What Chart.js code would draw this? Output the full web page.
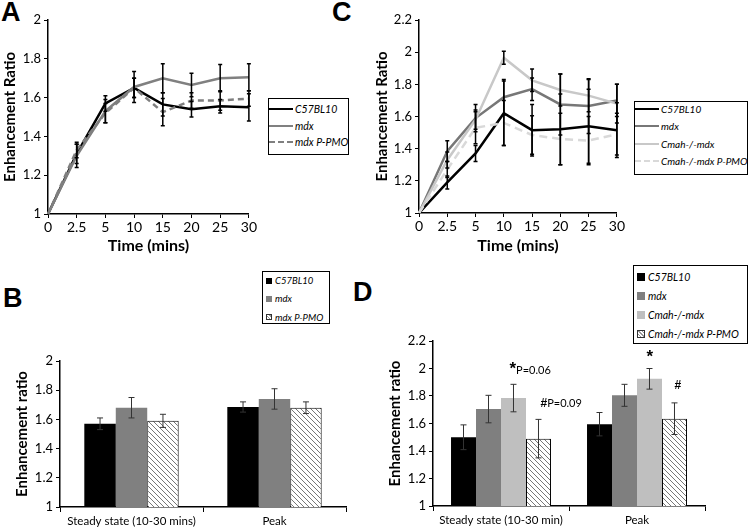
<!DOCTYPE html>
<html>
<head>
<meta charset="utf-8">
<script src="https://cdn.jsdelivr.net/npm/chart.js@4"></script>
<style>
  body { margin: 0; background: #fff; font-family: Lato, "Open Sans", sans-serif; }
  #wrap { position: relative; width: 752px; height: 531px; overflow: hidden; background: #fff; }
  .box { position: absolute; }
  .panel { position: absolute; font: bold 27px "Liberation Sans", Arial, sans-serif; color: #000; }
  .legend { position: absolute; border: 1.5px solid #000; background: #fff; box-sizing: border-box; }
  .item { position: absolute; left: 0; white-space: nowrap; font-style: italic; color: #000; display: flex; align-items: center; }
  .line { display: inline-block; width: 24px; height: 0; margin-right: 2px; }
  .sq { display: inline-block; margin: 0 3px 0 3px; box-sizing: border-box; }
</style>
</head>
<body>
<div id="wrap">
  <div class="panel" style="left:1px;top:-3px">A</div>
  <div class="panel" style="left:332px;top:-3px">C</div>
  <div class="panel" style="left:3px;top:283px">B</div>
  <div class="panel" style="left:353px;top:277px">D</div>

  <div class="box" style="left:0;top:0;width:258px;height:255px"><canvas id="chartA"></canvas></div>
  <div class="box" style="left:372px;top:0;width:254px;height:255px"><canvas id="chartC"></canvas></div>
  <div class="box" style="left:12px;top:345px;width:336px;height:186px"><canvas id="chartB"></canvas></div>
  <div class="box" style="left:385px;top:325px;width:322px;height:206px"><canvas id="chartD"></canvas></div>

  <div class="legend" id="legA" style="left:268px;top:98px;width:81px;height:57px;font-size:10.5px"></div>
  <div class="legend" id="legC" style="left:634px;top:101px;width:114px;height:74px;font-size:10px"></div>
  <div class="legend" id="legB" style="left:262px;top:271px;width:68px;height:53px;font-size:9.5px"></div>
  <div class="legend" id="legD" style="left:633px;top:265px;width:115px;height:79px;font-size:10.5px"></div>
</div>

<script>
// ---- data ----
const timeLabels = ['0', '2.5', '5', '10', '15', '20', '25', '30'];

// panel A
const aC57 = [1, 1.31, 1.57, 1.65, 1.565, 1.54, 1.555, 1.55];
const aC57Err = [0, 0.05, 0.04, 0.05, 0.06, 0.04, 0.035, 0.07];
const aMdx = [1, 1.30, 1.53, 1.655, 1.70, 1.665, 1.70, 1.705];
const aMdxErr = [0, 0.06, 0.06, 0.08, 0.075, 0.06, 0.07, 0.07];
const aPmo = [1, 1.33, 1.52, 1.65, 1.525, 1.585, 1.585, 1.595];
const aPmoErr = [0, 0.04, 0.05, 0.05, 0.07, 0.04, 0.05, 0.04];

// panel C
const cC57 = [1, 1.19, 1.37, 1.62, 1.515, 1.52, 1.54, 1.515];
const cC57Err = [0, 0.04, 0.05, 0.2, 0.16, 0.22, 0.23, 0.17];
const cMdx = [1, 1.385, 1.59, 1.72, 1.77, 1.675, 1.665, 1.70];
const cMdxErr = [0, 0.065, 0.085, 0.11, 0.07, 0.19, 0.17, 0.1];
const cCmah = [1, 1.33, 1.58, 1.965, 1.825, 1.765, 1.73, 1.68];
const cCmahErr = [0, 0.05, 0.06, 0.04, 0.07, 0.1, 0.1, 0.12];
const cPmo = [1, 1.27, 1.53, 1.56, 1.485, 1.46, 1.45, 1.49];
const cPmoErr = [0, 0.05, 0.1, 0.14, 0.12, 0.16, 0.15, 0.13];

// panel B
const barGroupsB = ['Steady state (10-30 mins)', 'Peak'];
const bC57 = [1.57, 1.685];
const bC57Err = [0.04, 0.035];
const bMdx = [1.68, 1.74];
const bMdxErr = [0.07, 0.07];
const bPmo = [1.59, 1.68];
const bPmoErr = [0.045, 0.04];

// panel D
const barGroupsD = ['Steady state (10-30 min)', 'Peak'];
const dC57 = [1.50, 1.595];
const dC57Err = [0.09, 0.085];
const dMdx = [1.705, 1.805];
const dMdxErr = [0.1, 0.08];
const dCmah = [1.785, 1.925];
const dCmahErr = [0.1, 0.075];
const dPmo = [1.49, 1.635];
const dPmoErr = [0.14, 0.115];

Chart.defaults.font.family = 'Lato, "Open Sans", sans-serif';
Chart.defaults.color = '#000';
Chart.defaults.animation = false;

// hatched fill for the P-PMO bars
function hatchPattern() {
    const c = document.createElement('canvas');
    c.width = 5; c.height = 5;
    const g = c.getContext('2d');
    g.fillStyle = '#fff';
    g.fillRect(0, 0, 5, 5);
    g.strokeStyle = '#777';
    g.lineWidth = 1;
    g.beginPath();
    g.moveTo(0, 0); g.lineTo(5, 5);
    g.moveTo(-1, 4); g.lineTo(1, 6);
    g.moveTo(4, -1); g.lineTo(6, 1);
    g.stroke();
    return g.createPattern(c, 'repeat');
}

// Plugin for error bars
const errorBars = {
    id: 'errorBars',
    afterDatasetsDraw(chart, args, opts) {
        const { ctx } = chart;
        const y = chart.scales.y;
        ctx.save();
        chart.data.datasets.forEach((ds, i) => {
            if (!ds.errors) return;
            const meta = chart.getDatasetMeta(i);
            ds.data.forEach((v, j) => {
                const e = ds.errors[j];
                if (!e) return;
                const x = meta.data[j].x;
                const top = y.getPixelForValue(v + e);
                const bot = y.getPixelForValue(v - e);
                ctx.strokeStyle = opts.color;
                ctx.lineWidth = opts.width;
                ctx.beginPath();
                ctx.moveTo(x, top); ctx.lineTo(x, bot);
                ctx.moveTo(x - opts.cap, top); ctx.lineTo(x + opts.cap, top);
                ctx.moveTo(x - opts.cap, bot); ctx.lineTo(x + opts.cap, bot);
                ctx.stroke();
            });
        });
        ctx.restore();
    }
};

// Plugin for the significance marks in D
const sigMarks = {
    id: 'sigMarks',
    afterDatasetsDraw(chart, args, opts) {
        const { ctx } = chart;
        ctx.save();
        ctx.fillStyle = '#000';
        ctx.textBaseline = 'middle';
        ctx.textAlign = 'left';
        (opts.marks || []).forEach(m => {
            const bar = chart.getDatasetMeta(m.ds).data[m.idx];
            let x = bar.x + m.dx;
            const y = bar.y + m.dy;
            ctx.font = 'bold ' + m.size + 'px "Liberation Sans", Arial, sans-serif';
            ctx.fillText(m.mark, x, y);
            if (m.note) {
                x += ctx.measureText(m.mark).width;
                ctx.font = '11px Lato, sans-serif';
                ctx.fillText(m.note, x, y + m.noteDy);
            }
        });
        ctx.restore();
    }
};

const fmt = v => String(Math.round(v * 10) / 10);

function yAxis(min, max, title, width) {
    return {
        min: min, max: max,
        afterFit: s => { s.width = width; },
        ticks: { stepSize: 0.2, font: { size: 13 }, padding: 3, callback: fmt },
        grid: { drawOnChartArea: false, color: '#000', tickLength: 4 },
        border: { color: '#000', width: 1.5 },
        title: { display: true, text: title, font: { size: 15, weight: 'bold' }, padding: { top: 1, bottom: 1 } }
    };
}

function lineSet(label, data, errors, color, dash) {
    return {
        label: label, data: data, errors: errors,
        borderColor: color, borderWidth: 2.5, borderDash: dash || [],
        pointRadius: 0, tension: 0, fill: false
    };
}

function lineOptions(ymax, yTitle, yWidth, xHeight) {
    return {
        responsive: true,
        maintainAspectRatio: false,
        layout: { padding: { top: 20, right: 8, left: 0, bottom: 0 } },
        plugins: {
            legend: { display: false },
            tooltip: { enabled: false },
            errorBars: { color: '#000', width: 1.5, cap: 2 }
        },
        scales: {
            x: {
                offset: false,
                afterFit: s => { s.height = xHeight; },
                ticks: { font: { size: 14 }, padding: 1, maxRotation: 0, autoSkip: false },
                grid: { drawOnChartArea: false, color: '#000', tickLength: 4, offset: false },
                border: { color: '#000', width: 1.5 },
                title: { display: true, text: 'Time (mins)', font: { size: 16, weight: 'bold' }, padding: { top: 0, bottom: 0 } }
            },
            y: yAxis(1, ymax, yTitle, yWidth)
        }
    };
}

function barSet(label, data, errors, color, border) {
    return {
        label: label, data: data, errors: errors,
        backgroundColor: color,
        borderColor: border ? '#000' : color,
        borderWidth: border ? 1 : 0
    };
}

function barOptions(ymax, yWidth, xHeight, catPct, extra) {
    return {
        responsive: true,
        maintainAspectRatio: false,
        layout: { padding: { top: 16, right: 2, left: 0, bottom: 0 } },
        datasets: { bar: { categoryPercentage: catPct, barPercentage: 1.0 } },
        plugins: Object.assign({
            legend: { display: false },
            tooltip: { enabled: false },
            errorBars: { color: '#333', width: 1, cap: 3 }
        }, extra || {}),
        scales: {
            x: {
                afterFit: s => { s.height = xHeight; },
                ticks: { font: { size: 11.5 }, padding: 2, maxRotation: 0, autoSkip: false },
                grid: { drawOnChartArea: false, color: '#000', tickLength: 5, offset: true },
                border: { color: '#000', width: 1.5 }
            },
            y: yAxis(1, ymax, 'Enhancement ratio', yWidth)
        }
    };
}

const hatch = hatchPattern();

// A Chart
new Chart(document.getElementById('chartA').getContext('2d'), {
    type: 'line',
    data: {
        labels: timeLabels,
        datasets: [
            lineSet('mdx P-PMO', aPmo, aPmoErr, '#7f7f7f', [6, 4]),
            lineSet('mdx', aMdx, aMdxErr, '#808080'),
            lineSet('C57BL10', aC57, aC57Err, '#000')
        ]
    },
    options: lineOptions(2, 'Enhancement Ratio', 48, 41),
    plugins: [errorBars]
});

// C Chart
new Chart(document.getElementById('chartC').getContext('2d'), {
    type: 'line',
    data: {
        labels: timeLabels,
        datasets: [
            lineSet('Cmah-/-mdx P-PMO', cPmo, cPmoErr, '#d9d9d9', [8, 5]),
            lineSet('Cmah-/-mdx', cCmah, cCmahErr, '#c8c8c8'),
            lineSet('mdx', cMdx, cMdxErr, '#777'),
            lineSet('C57BL10', cC57, cC57Err, '#000')
        ]
    },
    options: lineOptions(2.2, 'Enhancement Ratio', 47, 42),
    plugins: [errorBars]
});

// B Chart
new Chart(document.getElementById('chartB').getContext('2d'), {
    type: 'bar',
    data: {
        labels: barGroupsB,
        datasets: [
            barSet('C57BL10', bC57, bC57Err, '#000'),
            barSet('mdx', bMdx, bMdxErr, '#808080'),
            barSet('mdx P-PMO', bPmo, bPmoErr, hatch, true)
        ]
    },
    options: barOptions(2, 48, 24, 0.66),
    plugins: [errorBars]
});

// D Chart
new Chart(document.getElementById('chartD').getContext('2d'), {
    type: 'bar',
    data: {
        labels: barGroupsD,
        datasets: [
            barSet('C57BL10', dC57, dC57Err, '#000'),
            barSet('mdx', dMdx, dMdxErr, '#7f7f7f'),
            barSet('Cmah-/-mdx', dCmah, dCmahErr, '#bfbfbf'),
            barSet('Cmah-/-mdx P-PMO', dPmo, dPmoErr, hatch, true)
        ]
    },
    options: barOptions(2.2, 48, 25, 0.735, {
        sigMarks: {
            marks: [
                { ds: 2, idx: 0, mark: '*', size: 17, dx: -4, dy: -29, note: 'P=0.06', noteDy: 1 },
                { ds: 3, idx: 0, mark: '#', size: 12, dx: 2, dy: -35, note: 'P=0.09', noteDy: 0 },
                { ds: 2, idx: 1, mark: '*', size: 17, dx: -3, dy: -22 },
                { ds: 3, idx: 1, mark: '#', size: 12, dx: 0, dy: -33 }
            ]
        }
    }),
    plugins: [errorBars, sigMarks]
});

// ---- legends ----
function lineLegend(id, items, top, step) {
    const el = document.getElementById(id);
    items.forEach((it, i) => {
        const row = document.createElement('div');
        row.className = 'item';
        row.style.top = (top + i * step) + 'px';
        row.innerHTML = '<span class="line" style="border-top:2.5px ' + (it.dash ? 'dashed ' : 'solid ') + it.color + '"></span>' + it.label;
        el.appendChild(row);
    });
}

function barLegend(id, items, top, step, size) {
    const el = document.getElementById(id);
    items.forEach((it, i) => {
        const row = document.createElement('div');
        row.className = 'item';
        row.style.top = (top + i * step) + 'px';
        const fill = it.hatch
            ? 'background:repeating-linear-gradient(45deg,#fff 0 1.5px,#999 1.5px 2.5px);border:1px solid #333'
            : 'background:' + it.color;
        row.innerHTML = '<span class="sq" style="width:' + size + 'px;height:' + size + 'px;' + fill + '"></span>' + it.label;
        el.appendChild(row);
    });
}

lineLegend('legA', [
    { label: 'C57BL10', color: '#000' },
    { label: 'mdx', color: '#808080' },
    { label: 'mdx P-PMO', color: '#7f7f7f', dash: true }
], 4, 16.5);

lineLegend('legC', [
    { label: 'C57BL10', color: '#000' },
    { label: 'mdx', color: '#777' },
    { label: 'Cmah-/-mdx', color: '#c8c8c8' },
    { label: 'Cmah-/-mdx P-PMO', color: '#d9d9d9', dash: true }
], 1, 17.3);

barLegend('legB', [
    { label: 'C57BL10', color: '#000' },
    { label: 'mdx', color: '#808080' },
    { label: 'mdx P-PMO', hatch: true }
], 3, 18.3, 6);

barLegend('legD', [
    { label: 'C57BL10', color: '#000' },
    { label: 'mdx', color: '#7f7f7f' },
    { label: 'Cmah-/-mdx', color: '#bfbfbf' },
    { label: 'Cmah-/-mdx P-PMO', hatch: true }
], 5, 19, 8);
</script>
</body>
</html>
